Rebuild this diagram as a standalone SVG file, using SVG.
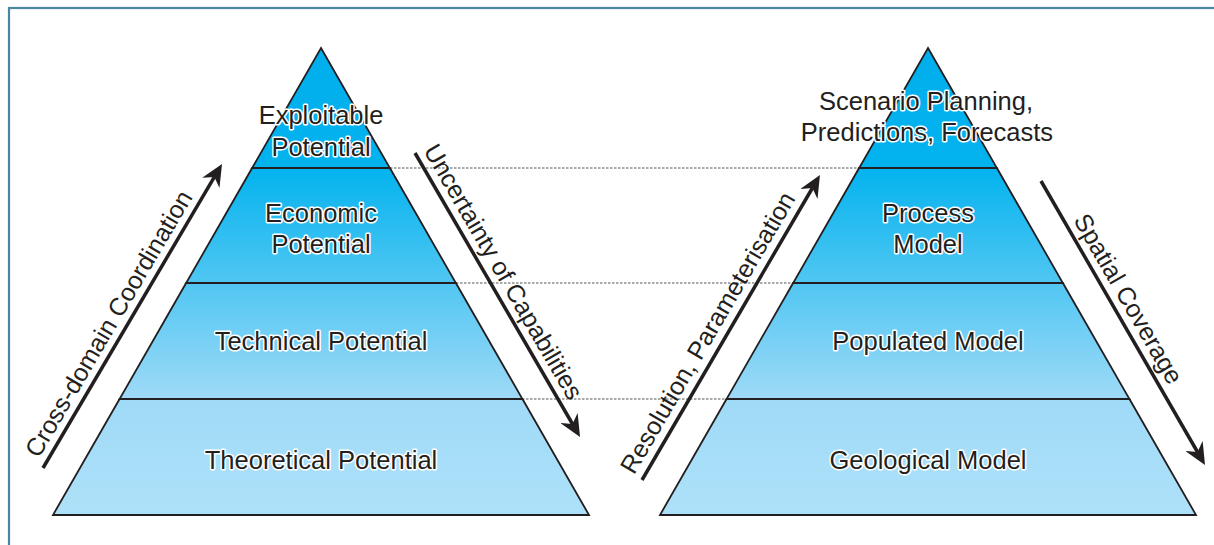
<svg xmlns="http://www.w3.org/2000/svg" width="1214" height="545" viewBox="0 0 1214 545">
  <style>
    .layer { stroke: #231f20; stroke-width: 1.8; stroke-linejoin: miter; fill: url(#pyr); }
    .lbl { font-family: "Liberation Sans", Arial, Helvetica, sans-serif; font-size: 25.5px; fill: #231f20; text-anchor: middle; stroke: #ffffff; stroke-width: 3; paint-order: stroke; stroke-linejoin: round; }
    .alb { font-family: "Liberation Sans", Arial, Helvetica, sans-serif; font-size: 25px; fill: #231f20; text-anchor: middle; }
    .arrow { stroke: #231f20; stroke-width: 3.5; fill: none; marker-end: url(#head); }
    .dash { stroke: #555555; stroke-width: 1; stroke-dasharray: 2.5 1.5; fill: none; }
  </style>
  <defs>
    <linearGradient id="pyr" gradientUnits="userSpaceOnUse" x1="0" y1="48" x2="0" y2="515">
      <stop offset="0" stop-color="#00aeec"/>
      <stop offset="0.257" stop-color="#03b3ee"/>
      <stop offset="0.752" stop-color="#9fdaf7"/>
      <stop offset="1" stop-color="#aee1f9"/>
    </linearGradient>
    <marker id="head" markerUnits="userSpaceOnUse" viewBox="-22 -10 22 20" markerWidth="22" markerHeight="20" refX="-15" refY="0" orient="auto">
      <path d="M0,0 L-22,-10 L-15,0 L-22,10 Z" fill="#231f20"/>
    </marker>
  </defs>

  <rect x="9" y="8" width="1230" height="560" fill="none" stroke="#4a879e" stroke-width="2.2"/>

  <g id="connectors">
    <line class="dash" x1="390" y1="168" x2="859" y2="168"/>
    <line class="dash" x1="456" y1="283" x2="793" y2="283"/>
    <line class="dash" x1="522" y1="399" x2="727" y2="399"/>
    <line class="arrow" x1="43" y1="468" x2="214.4" y2="176.9"/>
    <line class="arrow" x1="415" y1="153" x2="572.5" y2="424"/>
    <line class="arrow" x1="642" y1="480" x2="812.4" y2="188"/>
    <line class="arrow" x1="1041" y1="181" x2="1197.5" y2="452"/>
  </g>

  <g id="exploitable-potential">
    <polygon class="layer" points="321,48 389.87,168 252.13,168"/>
    <text class="lbl" x="321" y="124">Exploitable</text>
    <text class="lbl" x="321" y="156">Potential</text>
  </g>
  <g id="economic-potential">
    <polygon class="layer" points="252.13,168 389.87,168 455.86,283 186.14,283"/>
    <text class="lbl" x="321" y="222">Economic</text>
    <text class="lbl" x="321" y="253">Potential</text>
  </g>
  <g id="technical-potential">
    <polygon class="layer" points="186.14,283 455.86,283 522.44,399 119.56,399"/>
    <text class="lbl" x="321" y="350">Technical Potential</text>
  </g>
  <g id="theoretical-potential">
    <polygon class="layer" points="119.56,399 522.44,399 589,515 53,515"/>
    <text class="lbl" x="321" y="469">Theoretical Potential</text>
  </g>

  <g id="scenario-planning">
    <polygon class="layer" points="928,48 996.87,168 859.13,168"/>
    <text class="lbl" x="926" y="110">Scenario Planning,</text>
    <text class="lbl" x="927" y="141">Predictions, Forecasts</text>
  </g>
  <g id="process-model">
    <polygon class="layer" points="859.13,168 996.87,168 1062.86,283 793.14,283"/>
    <text class="lbl" x="928" y="222">Process</text>
    <text class="lbl" x="928" y="253">Model</text>
  </g>
  <g id="populated-model">
    <polygon class="layer" points="793.14,283 1062.86,283 1129.44,399 726.56,399"/>
    <text class="lbl" x="928" y="350">Populated Model</text>
  </g>
  <g id="geological-model">
    <polygon class="layer" points="726.56,399 1129.44,399 1196,515 660,515"/>
    <text class="lbl" x="928" y="469">Geological Model</text>
  </g>

  <g id="arrow-labels">
    <text class="alb" x="116" y="328" transform="rotate(-59.5 116 328)">Cross-domain Coordination</text>
    <text class="alb" x="496" y="276" transform="rotate(59.85 496 276)">Uncertainty of Capabilities</text>
    <text class="alb" x="715" y="337" transform="rotate(-59.7 715 337)">Resolution, Parameterisation</text>
    <text class="alb" x="1121" y="303" transform="rotate(60 1121 303)">Spatial Coverage</text>
  </g>
</svg>
